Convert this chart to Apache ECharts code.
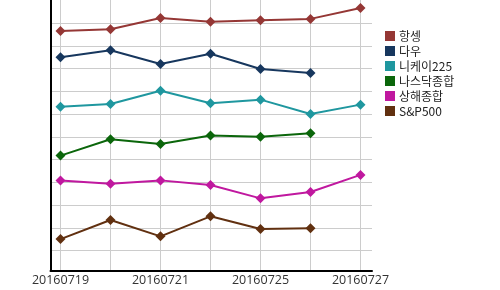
<!DOCTYPE html>
<html><head><meta charset="utf-8">
<script src="https://cdn.jsdelivr.net/npm/echarts/dist/echarts.min.js"></script>
<style>html,body{margin:0;padding:0;background:#fff}#c{width:500px;height:290px}</style>
</head><body><div id="c"></div>
<script>
const categories = ['20160719','20160720','20160721','20160722','20160725','20160726','20160727'];
const seriesNames = ['항셍','다우','니케이225','나스닥종합','상해종합','S&P500'];
const hangseng = [10.66,10.73,11.23,11.06,11.13,11.19,11.67];
const dow      = [9.50,9.81,9.21,9.66,8.99,8.81,null];
const nikkei   = [7.33,7.45,8.03,7.48,7.64,7.01,7.42];
const nasdaq   = [5.18,5.90,5.69,6.06,6.01,6.16,null];
const shanghai = [4.09,3.94,4.09,3.89,3.30,3.58,4.33];
const sp500    = [1.51,2.35,1.63,2.51,1.95,1.98,null];
const colors = ['#953735','#17375E','#1F979F','#0B660B','#C0189F','#613010'];
const allData = [hangseng, dow, nikkei, nasdaq, shanghai, sp500];

const chart = echarts.init(document.getElementById('c'), null, {renderer:'canvas'});
const FONT = '"Open Sans", "Noto Sans", sans-serif';
chart.setOption({
  animation: false,
  backgroundColor: '#ffffff',
  legend: {
    orient: 'vertical', left: 380, top: 25,
    icon: 'rect', itemWidth: 10, itemHeight: 10, itemGap: 3,
    textStyle: { fontFamily: '"Noto Sans CJK KR", sans-serif', fontSize: 12, color: '#222', padding:[0,0,0,-1] },
    data: seriesNames
  },
  grid: [
    { left: 60.5, right: 139.5, top: 0, bottom: 19.5 },
    { left: 50.5, right: 128, top: 0.52, bottom: 16.6 },
    { left: 50.5, right: 128, top: 0, bottom: 19.5 }
  ],
  xAxis: [
    { gridIndex: 0, type: 'category', data: categories, boundaryGap: false,
      axisLine: { show: false }, axisTick: { show: false },
      axisLabel: { interval: 1, margin: 3, fontFamily: FONT, fontSize: 12.5, color: '#333' },
      splitLine: { show: true, interval: 0, lineStyle: { color: '#cccccc', width: 1 } }, z: 1 },
    { gridIndex: 1, type: 'value', show: false, min: 0, max: 1 },
    { gridIndex: 2, type: 'value', min: 0, max: 1,
      axisLine: { show: true, onZero: false, lineStyle: { color: '#000', width: 2 } },
      axisTick: { show: false }, axisLabel: { show: false }, splitLine: { show: false }, z: 3 }
  ],
  yAxis: [
    { gridIndex: 0, type: 'value', show: false, min: 0.128, max: 12.02 },
    { gridIndex: 1, type: 'value', min: 0, max: 12, interval: 1,
      axisLine: { show: false }, axisTick: { show: false }, axisLabel: { show: false },
      splitLine: { show: true, showMinLine: false, showMaxLine: false, lineStyle: { color: '#cccccc', width: 1 } }, z: 1 },
    { gridIndex: 2, type: 'value', min: 0, max: 1,
      axisLine: { show: true, onZero: false, lineStyle: { color: '#000', width: 2 } },
      axisTick: { show: false }, axisLabel: { show: false }, splitLine: { show: false }, z: 3 }
  ],
  series: seriesNames.map((n, i) => ({
    name: n, type: 'line', xAxisIndex: 0, yAxisIndex: 0,
    data: allData[i], symbol: 'diamond', symbolSize: 10, showSymbol: true,
    connectNulls: false,
    itemStyle: { color: colors[i] },
    lineStyle: { color: colors[i], width: 2 },
    z: 5
  }))
});
</script></body></html>
